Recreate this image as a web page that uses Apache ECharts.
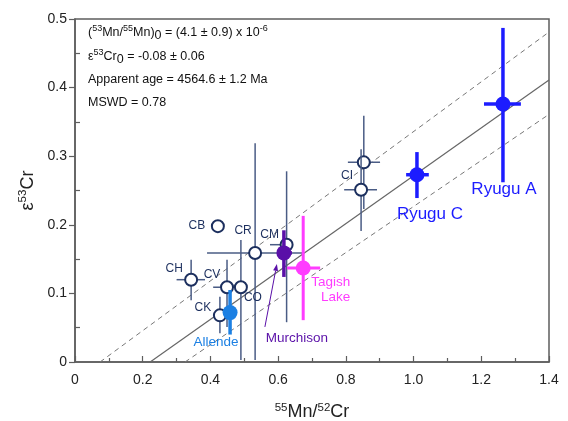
<!DOCTYPE html>
<html>
<head>
<meta charset="utf-8">
<script src="https://cdn.jsdelivr.net/npm/echarts@6/dist/echarts.min.js"></script>
<style>html,body{margin:0;padding:0;background:#fff;}#c{width:568px;height:421px;}</style>
</head>
<body>
<div id="c"></div>
<script>
// ---- data ----
const names  = ['CB','CR','CM','CH','CV','CO','CK','CI-1','CI-2','Allende','Murchison','Tagish Lake','Ryugu C','Ryugu A'];
const mnCr   = [0.422,0.532,0.625,0.343,0.449,0.490,0.428,0.853,0.845,0.458,0.617,0.674,1.010,1.264];
const eps53  = [0.198,0.159,0.171,0.120,0.109,0.109,0.068,0.291,0.251,0.072,0.159,0.137,0.273,0.376];
const xLow   = [0.422,0.390,0.576,0.300,0.408,0.490,0.415,0.806,0.795,0.458,0.597,0.626,0.978,1.208];
const xHigh  = [0.422,0.673,0.641,0.384,0.487,0.490,0.440,0.901,0.892,0.458,0.641,0.724,1.045,1.317];
const yLow   = [0.198,0.003,0.058,0.090,0.051,0.003,0.042,0.223,0.191,0.040,0.124,0.061,0.239,0.262];
const yHigh  = [0.198,0.319,0.278,0.149,0.149,0.178,0.095,0.359,0.310,0.105,0.192,0.213,0.306,0.487];
const groups = ['cc','cc','cc','cc','cc','cc','cc','cc','cc','allende','murchison','tagish','ryugu','ryugu'];
const pointLabels = ['CB','CR','CM','CH','CV','CO','CK','','CI','Allende','Murchison','Tagish\nLake','Ryugu C','Ryugu A'];

const fitLine   = [[0.222,0],[1.4,0.411]];
const upperEnv  = [[0.074,0],[1.4,0.481]];
const lowerEnv  = [[0.325,0],[1.4,0.361]];

const xTicks = ['0','0.2','0.4','0.6','0.8','1.0','1.2','1.4'];
const yTicks = ['0','0.1','0.2','0.3','0.4','0.5'];

// ---- styles ----
const groupStyle = {
  cc:        {bar:'#4a5c85', barW:1.5, mark:'#1c2f5e', r:6, open:true,  font:12, lab:'#1c2f5e'},
  allende:   {bar:'#1c80e3', barW:3.5, mark:'#1c80e3', r:7.5, open:false, font:13.5, lab:'#1c80e3'},
  murchison: {bar:'#5a10a8', barW:3.5, mark:'#5a10a8', r:7.5, open:false, font:13.5, lab:'#5a10a8'},
  tagish:    {bar:'#ff3cff', barW:3,   mark:'#ff3cff', r:7.5, open:false, font:13.5, lab:'#ff3cff'},
  ryugu:     {bar:'#1c1cff', barW:3.5, mark:'#1c1cff', r:7.5, open:false, font:17, lab:'#1c1cff'}
};
const labelOffset = {
  'CB':[-21,0],'CR':[-12,-22],'CM':[-17,-10],'CH':[-17,-11],'CV':[-15,-13],'CO':[12,10],'CK':[-17,-8],
  'CI-2':[-14,-14],'Allende':[-14,30],'Murchison':[13,85],'Tagish Lake':[47,22],'Ryugu C':[13,40],'Ryugu A':[1,85]
};

const data = names.map((n,i)=>[mnCr[i],eps53[i],xLow[i],xHigh[i],yLow[i],yHigh[i],i]);

function renderItem(params, api){
  const i = api.value(6);
  const st = groupStyle[groups[i]];
  const c = api.coord([api.value(0), api.value(1)]);
  const xl = api.coord([api.value(2), api.value(1)]);
  const xh = api.coord([api.value(3), api.value(1)]);
  const yl = api.coord([api.value(0), api.value(4)]);
  const yh = api.coord([api.value(0), api.value(5)]);
  const ls = {stroke: st.bar, lineWidth: st.barW};
  const ch = [];
  if (xh[0]-xl[0] > 0.5) ch.push({type:'line', shape:{x1:xl[0],y1:xl[1],x2:xh[0],y2:xh[1]}, style:ls});
  if (yl[1]-yh[1] > 0.5) ch.push({type:'line', shape:{x1:yl[0],y1:yl[1],x2:yh[0],y2:yh[1]}, style:ls});
  ch.push({type:'circle', shape:{cx:c[0],cy:c[1],r:st.r},
    style: st.open ? {fill:'#fff', stroke:st.mark, lineWidth:2} : {fill:st.mark, stroke:st.mark, lineWidth:0}});
  const nm = names[i];
  const off = labelOffset[nm];
  if (off && pointLabels[i]) {
    const isTag = nm === 'Tagish Lake';
    ch.push({type:'text', x:c[0]+off[0], y:c[1]+off[1], style:{
      text: pointLabels[i], fill: st.lab, font: st.font+'px "Liberation Sans", Arial, sans-serif',
      align: isTag ? 'right' : 'center', verticalAlign:'middle', lineHeight: isTag ? 15 : undefined
    }});
  }
  if (nm === 'Murchison') {
    const x1 = c[0]-19, y1 = c[1]+74, x2 = c[0]-7, y2 = c[1]+11;
    const ang = Math.atan2(y2-y1, x2-x1);
    const L = 7, W = 2.5;
    const bx = x2 - L*Math.cos(ang), by = y2 - L*Math.sin(ang);
    const px = -Math.sin(ang)*W, py = Math.cos(ang)*W;
    ch.push({type:'line', shape:{x1:x1,y1:y1,x2:bx,y2:by}, style:{stroke:st.bar, lineWidth:1}});
    ch.push({type:'polygon', shape:{points:[[x2,y2],[bx+px,by+py],[bx-px,by-py]]}, style:{fill:st.bar}});
  }
  return {type:'group', children: ch};
}

const font = '"Liberation Sans", Arial, sans-serif';
const boxRich = {
  m:{fontSize:12.5, fontFamily:font, lineHeight:18, fill:'#111'},
  s:{fontSize:9, fontFamily:font, verticalAlign:'top', lineHeight:18, fill:'#111'},
  b:{fontSize:12.5, fontFamily:font, verticalAlign:'bottom', lineHeight:18, fill:'#111'}
};
const chart = echarts.init(document.getElementById('c'), null, {renderer:'canvas'});
chart.setOption({
  animation:false,
  backgroundColor:'#fff',
  grid:{left:75, right:19, top:19, bottom:59, show:true, borderColor:'#5e5e5e', borderWidth:1.5,
        backgroundColor:'transparent', containLabel:false, outerBoundsMode:'none'},
  xAxis:{
    type:'value', min:0, max:1.4, interval:0.2,
    name:'{s|55}{m|Mn/}{s|52}{m|Cr}', nameLocation:'middle', nameGap:40,
    nameTextStyle:{rich:{
      s:{fontSize:11.5, fontFamily:font, color:'#222', verticalAlign:'top', lineHeight:21},
      m:{fontSize:18, fontFamily:font, color:'#222', lineHeight:21}
    }},
    axisLine:{lineStyle:{color:'#5e5e5e', width:1.5}},
    axisTick:{inside:true, length:6, lineStyle:{color:'#5e5e5e', width:1.2}},
    minorTick:{show:true, splitNumber:2, length:4, lineStyle:{color:'#5e5e5e', width:1.2}},
    splitLine:{show:false},
    axisLabel:{fontSize:14, fontFamily:font, color:'#222', margin:11,
      formatter:(v)=>xTicks[Math.round(v/0.2)]}
  },
  yAxis:[{
    type:'value', min:0, max:0.5, interval:0.1, position:'left',
    name:'{m|ε}{s|53}{m|Cr}', nameLocation:'middle', nameGap:30,
    nameTextStyle:{rich:{
      s:{fontSize:11.5, fontFamily:font, color:'#222', verticalAlign:'top', lineHeight:21},
      m:{fontSize:18, fontFamily:font, color:'#222', lineHeight:21}
    }},
    axisLine:{lineStyle:{color:'#5e5e5e', width:1.5}},
    axisTick:{inside:false, length:6, lineStyle:{color:'#5e5e5e', width:1.2}},
    splitLine:{show:false},
    axisLabel:{fontSize:14, fontFamily:font, color:'#222', margin:8,
      formatter:(v)=>yTicks[Math.round(v/0.1)]}
  },{
    type:'value', min:0, max:0.5, interval:0.05, position:'left', offset:0,
    axisLine:{show:false},
    axisTick:{inside:true, length:5, lineStyle:{color:'#5e5e5e', width:1.2}, customValues:[0.05,0.15,0.25,0.35,0.45]},
    axisLabel:{show:false}, splitLine:{show:false}
  }],
  series:[
    {type:'line', data:upperEnv, showSymbol:false, symbol:'none', lineStyle:{color:'#777', width:1, type:[5,4]}, z:1, silent:true},
    {type:'line', data:lowerEnv, showSymbol:false, symbol:'none', lineStyle:{color:'#777', width:1, type:[5,4]}, z:1, silent:true},
    {type:'line', data:fitLine, showSymbol:false, symbol:'none', lineStyle:{color:'#666', width:1.2}, z:1, silent:true},
    {type:'custom', renderItem:renderItem, data:data, clip:true, encode:{x:[0,2,3], y:[1,4,5]}, z:3}
  ],
  graphic:[
    {type:'text', left:88, top:24, style:{text:'{m|(}{s|53}{m|Mn/}{s|55}{m|Mn)}{b|0}{m| = (4.1 ± 0.9) x 10}{s|-6}', rich:boxRich}},
    {type:'text', left:88, top:48, style:{text:'{m|ε}{s|53}{m|Cr}{b|0}{m| = -0.08 ± 0.06}', rich:boxRich}},
    {type:'text', left:88, top:73, style:{text:'Apparent age = 4564.6 ± 1.2 Ma', font:'12.5px '+font, fill:'#111'}},
    {type:'text', left:88, top:96, style:{text:'MSWD = 0.78', font:'12.5px '+font, fill:'#111'}}
  ]
});
</script>
</body>
</html>
